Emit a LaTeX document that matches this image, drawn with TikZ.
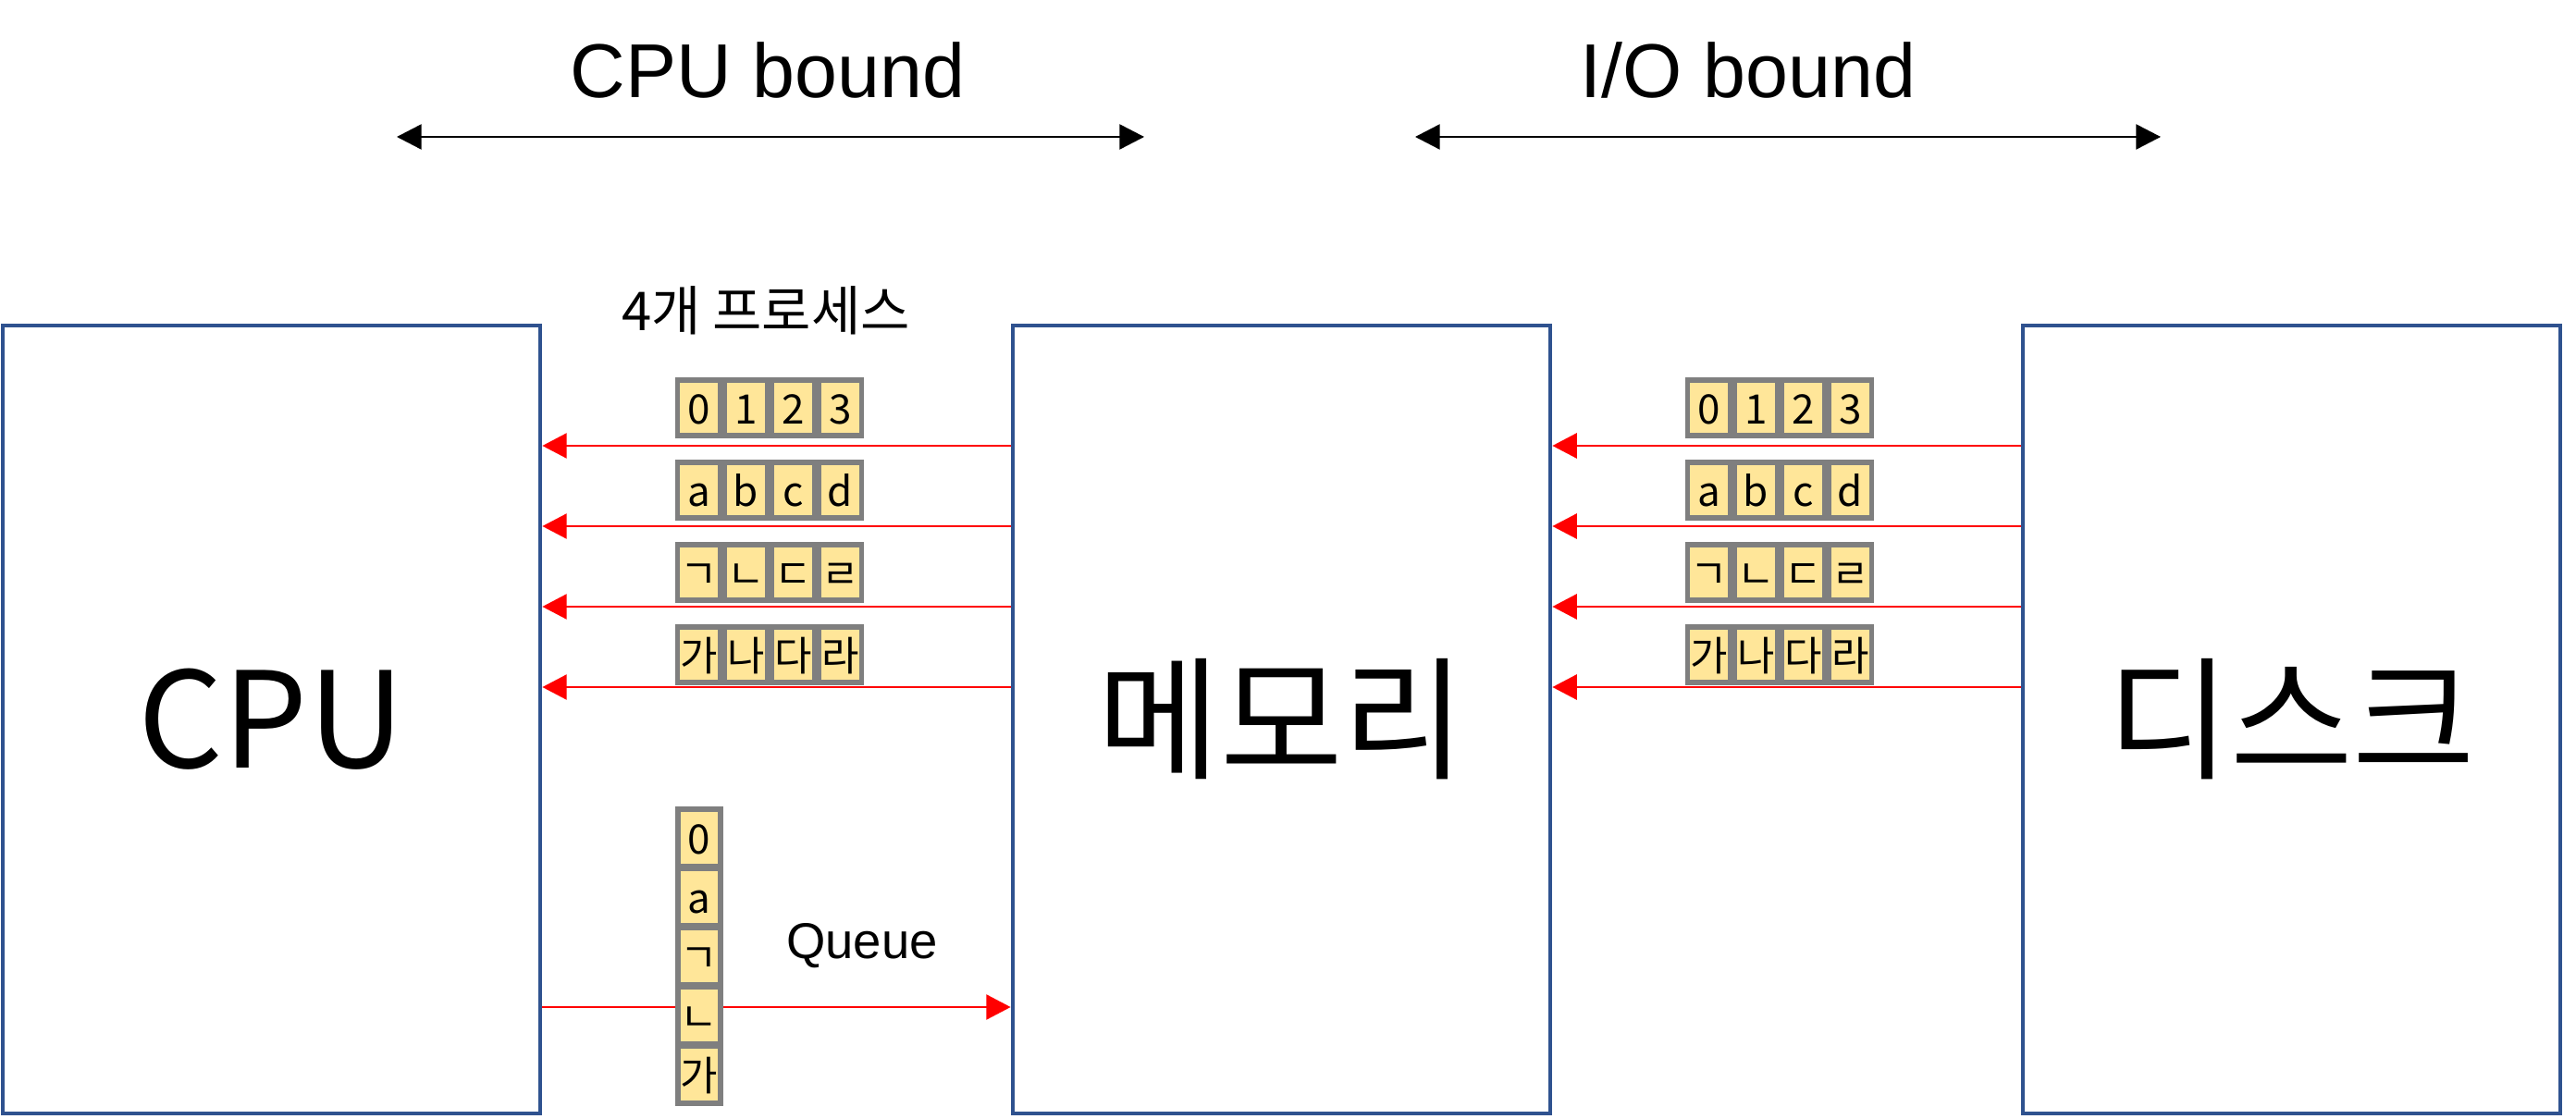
\documentclass[tikz,border=0pt]{standalone}
\usepackage{fontspec}
\setmainfont{Liberation Sans}
\newfontfamily\kor{Noto Sans CJK KR}
\usepackage{tikz}
\usetikzlibrary{arrows.meta}
\definecolor{blu}{RGB}{47,82,143}
\definecolor{grigio}{RGB}{127,127,127}
\definecolor{giallo}{RGB}{255,230,153}
\tikzset{
>=Stealth,
main box/.style={rectangle,draw=blu,line width=1.35pt,minimum width=5.81cm,minimum height=8.52cm,font=\kor\fontsize{41}{48}\selectfont},
cella/.style={rectangle,draw=grigio,fill=giallo,line width=1.45pt,minimum width=0.46cm,minimum height=0.60cm,inner sep=0pt,text height=10pt,text depth=0pt,font=\kor\fontsize{12.5}{15}\selectfont},
freccia/.style={-{Triangle[length=7.5pt,width=7.7pt]},draw=red,line width=0.65pt},
doppia/.style={{Triangle[length=7.6pt,width=7.7pt]}-{Triangle[length=7.6pt,width=7.7pt]},line width=0.65pt},
titolo/.style={font=\fontsize{23.5}{28}\selectfont}}

\begin{document}
\begin{tikzpicture}

\useasboundingbox (0,0) rectangle (27.85,12.09);

% the three boxes
\node[main box] (cpu)  at (2.935,4.31)  {CPU};
\node[main box] (mem)  at (13.855,4.31) {메모리};
\node[main box] (disk) at (24.775,4.31) {디스크};

% titles on top
\node[titolo] (tcpu) at (8.30,11.33)  {CPU bound};
\node[titolo] (tio)  at (18.90,11.33) {I/O bound};
\coordinate (c1) at (4.29,10.61);
\coordinate (c2) at (12.37,10.61);
\coordinate (i1) at (15.30,10.61);
\coordinate (i2) at (23.36,10.61);
\draw[doppia] (c1) -- (c2);
\draw[doppia] (i1) -- (i2);

\node[font=\kor\fontsize{16.5}{19}\selectfont] (proc) at (8.28,8.73) {4개 프로세스};

% heights of the red lines
\coordinate (r1) at (0,7.27);
\coordinate (r2) at (0,6.40);
\coordinate (r3) at (0,5.53);
\coordinate (r4) at (0,4.66);
\coordinate (rq) at (0,1.20);

\draw[freccia] (mem.west |- r1) -- (cpu.east |- r1);
\draw[freccia] (mem.west |- r2) -- (cpu.east |- r2);
\draw[freccia] (mem.west |- r3) -- (cpu.east |- r3);
\draw[freccia] (mem.west |- r4) -- (cpu.east |- r4);
\draw[freccia] (disk.west |- r1) -- (mem.east |- r1);
\draw[freccia] (disk.west |- r2) -- (mem.east |- r2);
\draw[freccia] (disk.west |- r3) -- (mem.east |- r3);
\draw[freccia] (disk.west |- r4) -- (mem.east |- r4);
\draw[freccia] (cpu.east |- rq) -- (mem.west |- rq);

% processes between cpu and memory
\node[cella] (a1) at (7.555,7.68) {0};
\node[cella] (a2) at (8.065,7.68) {1};
\node[cella] (a3) at (8.575,7.68) {2};
\node[cella] (a4) at (9.085,7.68) {3};
\node[cella] (b1) at (7.555,6.79) {a};
\node[cella] (b2) at (8.065,6.79) {b};
\node[cella] (b3) at (8.575,6.79) {c};
\node[cella] (b4) at (9.085,6.79) {d};
\node[cella] (c1) at (7.555,5.90) {ㄱ};
\node[cella] (c2) at (8.065,5.90) {ㄴ};
\node[cella] (c3) at (8.575,5.90) {ㄷ};
\node[cella] (c4) at (9.085,5.90) {ㄹ};
\node[cella] (d1) at (7.555,5.01) {가};
\node[cella] (d2) at (8.065,5.01) {나};
\node[cella] (d3) at (8.575,5.01) {다};
\node[cella] (d4) at (9.085,5.01) {라};

% processes between memory and disk
\node[cella] (e1) at (18.475,7.68) {0};
\node[cella] (e2) at (18.985,7.68) {1};
\node[cella] (e3) at (19.495,7.68) {2};
\node[cella] (e4) at (20.005,7.68) {3};
\node[cella] (f1) at (18.475,6.79) {a};
\node[cella] (f2) at (18.985,6.79) {b};
\node[cella] (f3) at (19.495,6.79) {c};
\node[cella] (f4) at (20.005,6.79) {d};
\node[cella] (g1) at (18.475,5.90) {ㄱ};
\node[cella] (g2) at (18.985,5.90) {ㄴ};
\node[cella] (g3) at (19.495,5.90) {ㄷ};
\node[cella] (g4) at (20.005,5.90) {ㄹ};
\node[cella] (h1) at (18.475,5.01) {가};
\node[cella] (h2) at (18.985,5.01) {나};
\node[cella] (h3) at (19.495,5.01) {다};
\node[cella] (h4) at (20.005,5.01) {라};

% the queue
\node[cella,minimum height=0.62cm] (q1) at (7.56,3.03) {0};
\node[cella,minimum height=0.62cm] (q2) at (7.56,2.39) {a};
\node[cella,minimum height=0.62cm] (q3) at (7.56,1.75) {ㄱ};
\node[cella,minimum height=0.62cm] (q4) at (7.56,1.11) {ㄴ};
\node[cella,minimum height=0.62cm] (q5) at (7.56,0.47) {가};
\node[font=\fontsize{15.5}{18}\selectfont] (queue) at (9.32,1.86) {Queue};

\end{tikzpicture}
\end{document}
